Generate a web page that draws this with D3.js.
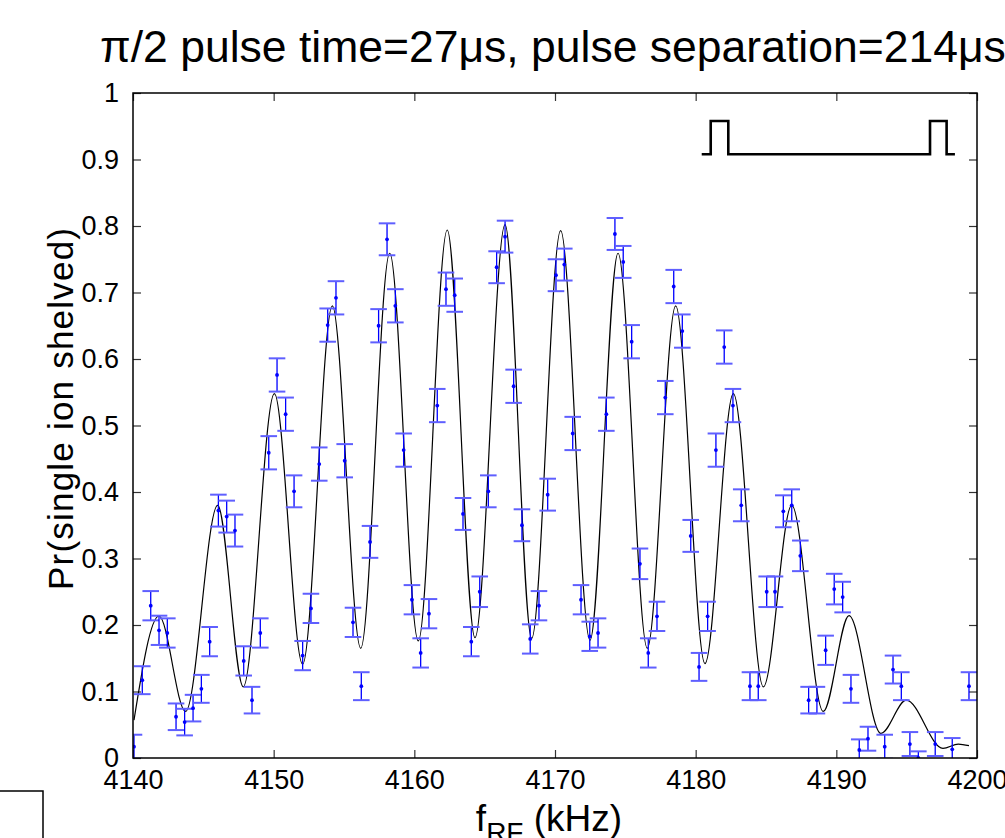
<!DOCTYPE html>
<html><head><meta charset="utf-8">
<script src="https://cdn.jsdelivr.net/npm/d3@7"></script>
<style>
html,body{margin:0;padding:0;background:#fff;overflow:hidden;}
svg{display:block;font-family:"Liberation Sans",Arial,Helvetica,sans-serif;}
</style></head>
<body>
<svg id="chart" width="1005" height="838"></svg>
<script>
// ---- data ----
const freq = [4140.07,4140.66,4141.26,4141.85,4142.44,4143.06,4143.67,4144.27,4144.86,4145.45,
4146.07,4146.66,4147.25,4147.87,4148.46,4149.05,4149.65,4150.24,4150.85,4151.45,
4152.06,4152.65,4153.24,4153.84,4154.43,4155.05,4155.64,4156.23,4156.85,4157.46,
4158.06,4158.65,4159.24,4159.83,4160.45,4161.04,4161.63,4162.25,4162.87,4163.46,
4164.05,4164.65,4165.26,4165.85,4166.45,4167.06,4167.65,4168.24,4168.86,4169.48,
4170.07,4170.66,4171.26,4171.85,4172.47,4173.06,4173.65,4174.26,4174.85,4175.45,
4176.04,4176.63,4177.25,4177.84,4178.44,4179.05,4179.65,4180.24,4180.85,4181.44,
4182.03,4182.65,4183.24,4183.86,4184.45,4185.05,4185.64,4186.23,4186.83,4187.44,
4188.03,4188.62,4189.24,4189.85,4190.45,4191.04,4191.63,4192.25,4193.44,4194.03,
4194.62,4195.23,4195.83,4197.03,4198.24,4199.43];
const prob = [0.017,0.117,0.229,0.192,0.188,0.062,0.054,0.075,0.104,0.175,
0.372,0.363,0.342,0.146,0.087,0.188,0.459,0.576,0.517,0.401,
0.154,0.225,0.442,0.651,0.692,0.447,0.204,0.108,0.325,0.650,
0.780,0.680,0.463,0.238,0.158,0.217,0.530,0.705,0.696,0.367,
0.175,0.250,0.401,0.738,0.784,0.559,0.350,0.179,0.229,0.396,
0.726,0.742,0.488,0.238,0.183,0.188,0.517,0.788,0.746,0.626,
0.292,0.158,0.213,0.542,0.709,0.642,0.334,0.137,0.213,0.463,
0.618,0.530,0.380,0.108,0.108,0.250,0.250,0.371,0.380,0.304,
0.087,0.087,0.162,0.254,0.242,0.104,0.012,0.029,0.017,0.133,
0.108,0.021,0.000,0.021,0.013,0.108];
const err = [0.018,0.021,0.022,0.022,0.022,0.020,0.020,0.020,0.021,0.022,
0.024,0.024,0.024,0.022,0.020,0.022,0.025,0.025,0.025,0.024,
0.022,0.022,0.025,0.025,0.025,0.025,0.022,0.021,0.024,0.025,
0.024,0.025,0.025,0.022,0.022,0.022,0.025,0.025,0.025,0.024,
0.022,0.023,0.024,0.024,0.024,0.025,0.024,0.022,0.022,0.024,
0.024,0.024,0.025,0.022,0.022,0.022,0.025,0.024,0.024,0.025,
0.023,0.022,0.022,0.025,0.025,0.025,0.024,0.021,0.022,0.025,
0.025,0.025,0.024,0.021,0.021,0.023,0.023,0.024,0.024,0.023,
0.020,0.020,0.022,0.023,0.023,0.021,0.016,0.018,0.018,0.021,
0.021,0.018,0.010,0.018,0.017,0.021];

// fitted curve, read at its turning points
const fitFreq = [4140.07,4141.85,4143.74,4146.02,4147.84,4150.05,4152.06,4154.17,4156.19,4158.25,
4160.28,4162.34,4164.31,4166.45,4168.34,4170.40,4172.49,4174.48,4176.56,4178.58,
4180.66,4182.68,4184.81,4186.83,4189.07,4190.90,4193.17,4194.97,4197.58,4198.67,4199.43];
const fitProb = [0.057,0.2135,0.070,0.380,0.107,0.548,0.141,0.680,0.165,0.759,
0.176,0.794,0.181,0.802,0.180,0.793,0.177,0.759,0.165,0.680,
0.142,0.548,0.107,0.380,0.070,0.214,0.037,0.087,0.0145,0.021,0.0185];

// pulse-sequence sketch (axis data coordinates)
const pulseFreq = [4180.43,4181.07,4181.07,4182.32,4182.32,4196.66,4196.66,4197.84,4197.84,4198.43];
const pulseProb = [0.908,0.908,0.958,0.958,0.908,0.908,0.958,0.958,0.908,0.908];

const xTicks = [4140,4150,4160,4170,4180,4190,4200];
const yTicks = [0,0.1,0.2,0.3,0.4,0.5,0.6,0.7,0.8,0.9,1];
const yTickLabels = ["0","0.1","0.2","0.3","0.4","0.5","0.6","0.7","0.8","0.9","1"];
const titleText = "\u03C0/2 pulse time=27\u03BCs, pulse separation=214\u03BCs";

// ---- drawing ----
const L = 133, R = 977, T = 93, B = 758;
const svg = d3.select("#chart");
const x = d3.scaleLinear().domain([4140,4200]).range([L,R]);
const y = d3.scaleLinear().domain([0,1]).range([B,T]);
const capHalf = 0.59;

svg.append("defs").append("clipPath").attr("id","clip")
  .append("rect").attr("x",L).attr("y",T).attr("width",R-L).attr("height",B-T);

// axes
const gx = svg.append("g").attr("transform",`translate(0,${B})`)
  .call(d3.axisBottom(x).tickValues(xTicks).tickSize(-8).tickPadding(12).tickFormat(d3.format("d")));
const gxt = svg.append("g").attr("transform",`translate(0,${T})`)
  .call(d3.axisTop(x).tickValues(xTicks).tickSize(-8).tickFormat(""));
const gy = svg.append("g").attr("transform",`translate(${L},0)`)
  .call(d3.axisLeft(y).tickValues(yTicks).tickSize(-8).tickPadding(14).tickFormat((d,i)=>yTickLabels[i]));
const gyr = svg.append("g").attr("transform",`translate(${R},0)`)
  .call(d3.axisRight(y).tickValues(yTicks).tickSize(-8).tickFormat(""));
[gx,gxt,gy,gyr].forEach(g=>{
  g.select(".domain").remove();
  g.selectAll(".tick line").attr("stroke","#333").attr("stroke-width",1.2);
  g.selectAll("text").attr("font-size",27).attr("fill","#000")
    .attr("font-family","'Liberation Sans',Arial,sans-serif");
});

const plot = svg.append("g").attr("clip-path","url(#clip)");

// fit curve
const line = d3.line().x((d,i)=>x(fitFreq[i])).y((d,i)=>y(fitProb[i])).curve(d3.curveMonotoneX);
plot.append("path").datum(fitFreq).attr("d",line)
  .attr("fill","none").attr("stroke","#000").attr("stroke-width",1.2);

// error bars
const eb = plot.append("g");
freq.forEach((f,i)=>{
  const p = prob[i], e = err[i];
  eb.append("line").attr("x1",x(f)).attr("x2",x(f)).attr("y1",y(p-e)).attr("y2",y(p+e))
    .attr("stroke","#0000ff").attr("stroke-width",1.3);
  [p-e,p+e].forEach(v=>{
    eb.append("line").attr("x1",x(f-capHalf)).attr("x2",x(f+capHalf)).attr("y1",y(v)).attr("y2",y(v))
      .attr("stroke","#5f5fff").attr("stroke-width",2);
  });
});
plot.append("g").selectAll("circle").data(freq).join("circle")
  .attr("cx",d=>x(d)).attr("cy",(d,i)=>y(prob[i])).attr("r",1.9).attr("fill","#0000ff");

// pulse sketch
const pline = d3.line().x((d,i)=>x(pulseFreq[i])).y((d,i)=>y(pulseProb[i]));
svg.append("path").datum(pulseFreq).attr("d",pline).attr("fill","none")
  .attr("stroke","#000").attr("stroke-width",2.6);

// box
svg.append("rect").attr("x",L).attr("y",T).attr("width",R-L).attr("height",B-T)
  .attr("fill","none").attr("stroke","#000").attr("stroke-width",1.5);

// title
svg.append("text").attr("x",100).attr("y",62).attr("font-size",44.5).attr("fill","#000")
  .text(titleText);

// y label
svg.append("text").attr("transform",`translate(73,409) rotate(-90)`)
  .attr("text-anchor","middle").attr("font-size",35).attr("fill","#000")
  .attr("textLength",362).attr("lengthAdjust","spacing")
  .text("Pr(single ion shelved)");

// x label
const xl = svg.append("text").attr("x",549).attr("y",831).attr("text-anchor","middle")
  .attr("font-size",37).attr("fill","#000");
xl.append("tspan").text("f");
xl.append("tspan").attr("dy",11).attr("font-size",28).text("RF");
xl.append("tspan").attr("dy",-11).text(" (kHz)");

// partial frame bottom-left
svg.append("path").attr("d","M0,791H43V838").attr("fill","none").attr("stroke","#000").attr("stroke-width",1.5);
</script>
</body></html>
